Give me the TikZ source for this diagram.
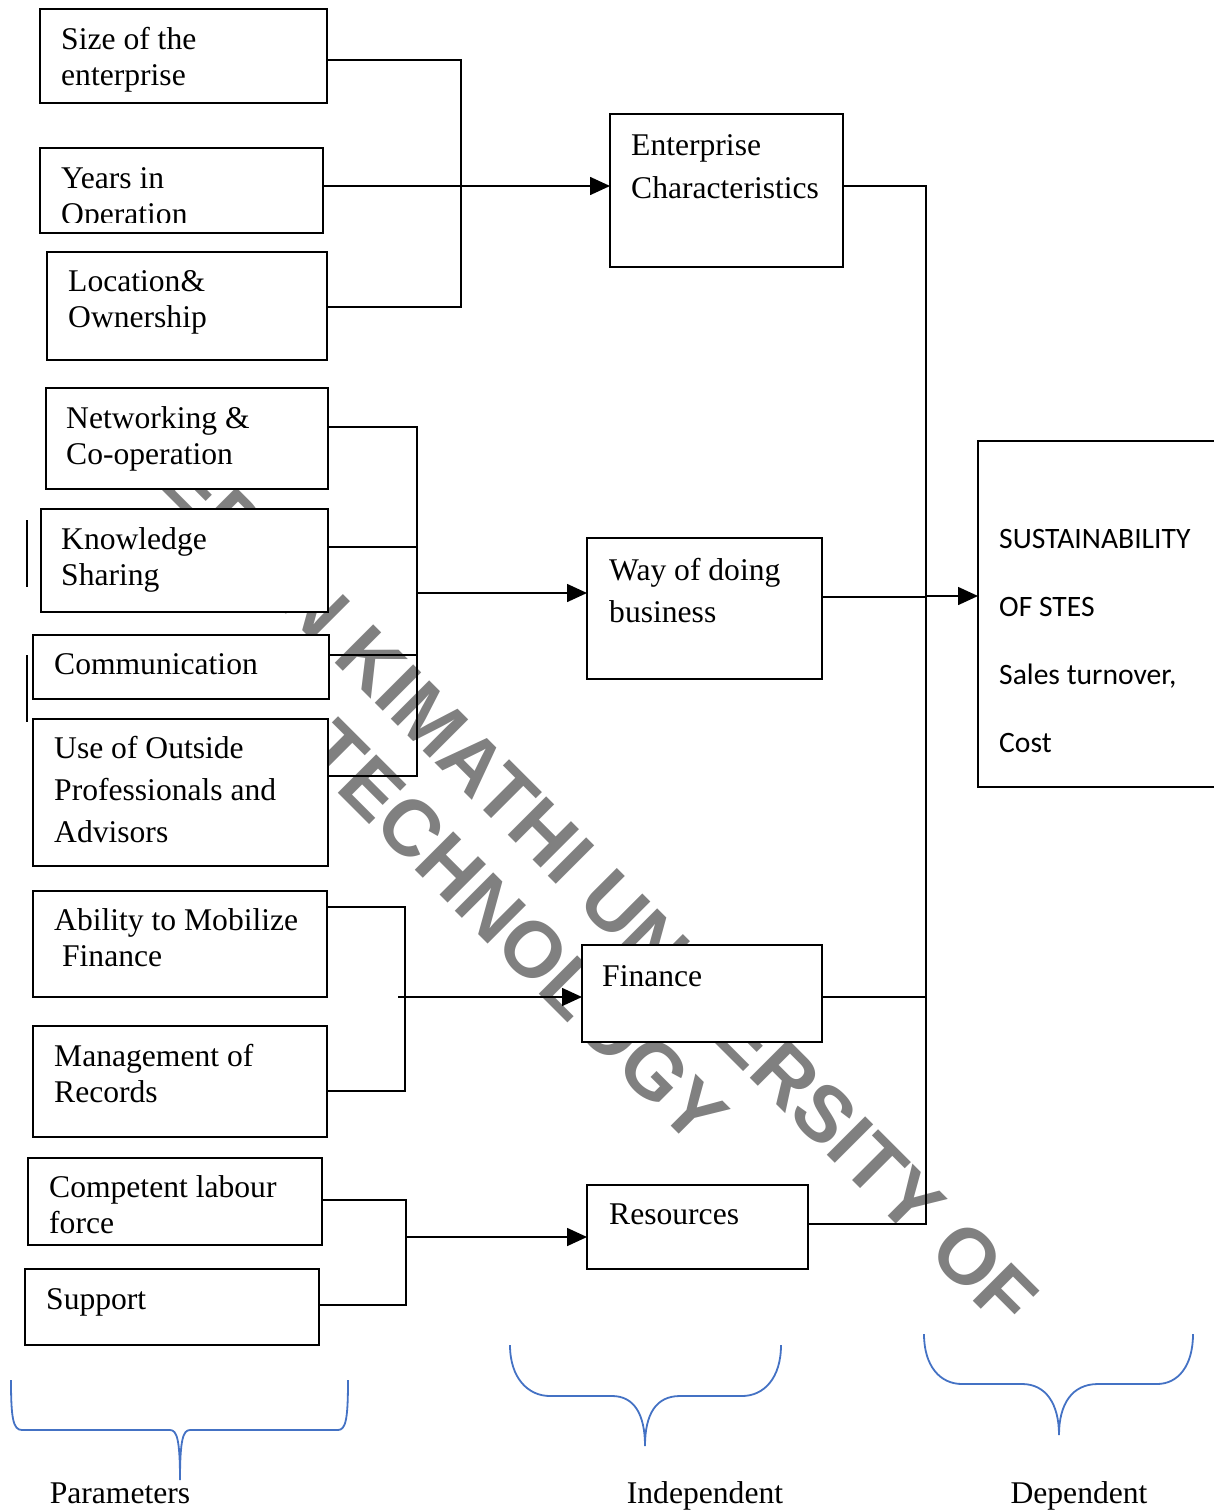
\documentclass[tikz,border=0pt]{standalone}
\usepackage{fontspec}
\setmainfont{Liberation Serif}
\newfontfamily\calfont{Carlito}
\newfontfamily\wmfont{Liberation Sans}
\usetikzlibrary{arrows.meta}
\definecolor{bracecol}{RGB}{68,114,196}
\definecolor{wmgray}{RGB}{128,128,128}

\begin{document}
\begin{tikzpicture}[x=1pt,y=-1pt,
  box/.style={draw=black, fill=white, line width=1.8pt, anchor=north west, inner sep=0pt, outer sep=0pt},
  % texts are placed by the baseline of their last line
  lbl/.style={anchor=base west, inner sep=0pt, align=left, font=\fontsize{31.6}{36}\selectfont},
  link/.style={draw=black, line width=1.6pt},
  arr/.style={link, -{Triangle[length=20pt,width=18pt]}},
  brace/.style={draw=bracecol, line width=1.8pt},
  caption/.style={anchor=base, inner sep=0pt, font=\fontsize{31.6}{36}\selectfont},
]
\useasboundingbox (0,0) rectangle (1214,1512);

% background watermark
\node[text=wmgray, rotate=-45, align=center, inner sep=0pt,
      font=\wmfont\bfseries\fontsize{79}{90}\selectfont] (wm) at (548,901)
      {DEDAN KIMATHI UNIVERSITY OF\\TECHNOLOGY};

% parameter boxes
\node[box, minimum width=287pt, minimum height=94pt]  (size) at (40,9) {};
\node[box, minimum width=283pt, minimum height=85pt]  (years) at (40,148) {};
\node[box, minimum width=280pt, minimum height=108pt] (loc) at (47,252) {};
\node[box, minimum width=282pt, minimum height=101pt] (net) at (46,388) {};
\node[box, minimum width=287pt, minimum height=103pt] (know) at (41,509) {};
\node[box, minimum width=296pt, minimum height=64pt]  (comm) at (33,635) {};
\node[box, minimum width=295pt, minimum height=147pt] (outs) at (33,719) {};
\node[box, minimum width=294pt, minimum height=106pt] (abil) at (33,891) {};
\node[box, minimum width=294pt, minimum height=111pt] (mgmt) at (33,1026) {};
\node[box, minimum width=294pt, minimum height=87pt]  (comp) at (28,1158) {};
\node[box, minimum width=294pt, minimum height=76pt]  (supp) at (25,1269) {};

% independent variable boxes
\node[box, minimum width=233pt, minimum height=153pt] (ent) at (610,114) {};
\node[box, minimum width=235pt, minimum height=141pt] (way) at (587,538) {};
\node[box, minimum width=240pt, minimum height=97pt]  (fin) at (582,945) {};
\node[box, minimum width=221pt, minimum height=84pt]  (res) at (587,1185) {};

% dependent variable box
\node[box, minimum width=250pt, minimum height=346pt] (sus) at (978,441) {};

% box texts
\node[lbl] (size-t) at (61,85) {Size of the\\enterprise};
\begin{scope}
  \clip (40,148) rectangle (323,222);
  \node[lbl] (years-t) at (61,224) {Years in\\Operation};
\end{scope}
\node[lbl] (loc-t) at (68,327) {Location\&\\Ownership};
\node[lbl] (net-t) at (66,464) {Networking \&\\Co-operation};
\node[lbl] (know-t) at (61,585) {Knowledge\\Sharing};
\node[lbl] (comm-t) at (54,674) {Communication};
\node[lbl, font=\fontsize{31.6}{42}\selectfont] (outs-t) at (54,842) {Use of Outside\\Professionals and\\Advisors};
\node[lbl] (abil-t) at (54,966) {Ability to Mobilize\\~Finance};
\node[lbl] (mgmt-t) at (54,1102) {Management of\\Records};
\node[lbl] (comp-t) at (49,1233) {Competent labour\\force};
\node[lbl] (supp-t) at (46,1309) {Support};
\node[lbl, font=\fontsize{31.6}{43}\selectfont] (ent-t) at (631,198) {Enterprise\\Characteristics};
\node[lbl, font=\fontsize{31.6}{42}\selectfont] (way-t) at (609,622) {Way of doing\\business};
\node[lbl] (fin-t) at (602,986) {Finance};
\node[lbl] (res-t) at (609,1224) {Resources};
\node[lbl, font=\calfont\fontsize{29.6}{68}\selectfont] (sus-t) at (999,752)
     {SUSTAINABILITY\\OF STES\\Sales turnover,\\Cost};

% first group: enterprise characteristics
\coordinate (g1a) at (461,60);
\coordinate (g1b) at (461,307);
\coordinate (g1m) at (461,186);
\draw[link] (size.east |- g1a) -- (g1a) -- (g1b) -- (loc.east |- g1b);
\draw[arr] (years.east |- g1m) -- (ent.west |- g1m);

% second group: way of doing business
\coordinate (g2a) at (417,427);
\coordinate (g2k) at (417,547);
\coordinate (g2c) at (417,655);
\coordinate (g2b) at (417,776);
\coordinate (g2m) at (417,593);
\draw[link] (net.east |- g2a) -- (g2a) -- (g2b) -- (outs.east |- g2b);
\draw[link] (know.east |- g2k) -- (g2k);
\draw[link] (comm.east |- g2c) -- (g2c);
\draw[arr] (g2m) -- (way.west |- g2m);

% third group: finance
\coordinate (g3a) at (405,907);
\coordinate (g3b) at (405,1091);
\coordinate (g3m) at (398,997);
\draw[link] (abil.east |- g3a) -- (g3a) -- (g3b) -- (mgmt.east |- g3b);
\draw[arr] (g3m) -- (fin.west |- g3m);

% fourth group: resources
\coordinate (g4a) at (406,1200);
\coordinate (g4b) at (406,1305);
\coordinate (g4m) at (406,1237);
\draw[link] (comp.east |- g4a) -- (g4a) -- (g4b) -- (supp.east |- g4b);
\draw[arr] (g4m) -- (res.west |- g4m);

% collector towards sustainability
\coordinate (rtop) at (926,186);
\coordinate (rbot) at (926,1224);
\coordinate (rway) at (926,597);
\coordinate (rfin) at (926,997);
\coordinate (rin) at (926,596);
\draw[link] (ent.east |- rtop) -- (rtop) -- (rbot) -- (res.east |- rbot);
\draw[link] (way.east |- rway) -- (rway);
\draw[link] (fin.east |- rfin) -- (rfin);
\draw[arr] (rin) -- (sus.west |- rin);

% stray margin bars
\draw[link] (27,520) -- (27,587);
\draw[link] (27,655) -- (27,722);

% braces
\draw[brace] (11,1380) .. controls (11,1418) and (13,1430) .. (22,1430) -- (170,1430)
  .. controls (177,1430) and (180,1440) .. (180,1480)
  .. controls (180,1440) and (183,1430) .. (190,1430) -- (338,1430)
  .. controls (346,1430) and (348,1418) .. (348,1380);
\draw[brace] (510,1345) .. controls (510,1378) and (528,1396) .. (550,1396) -- (612,1396)
  .. controls (634,1396) and (645,1414) .. (645,1446)
  .. controls (645,1414) and (656,1396) .. (680,1396) -- (742,1396)
  .. controls (764,1396) and (781,1378) .. (781,1345);
\draw[brace] (924,1334) .. controls (924,1366) and (940,1384) .. (962,1384) -- (1022,1384)
  .. controls (1046,1384) and (1059,1404) .. (1059,1435)
  .. controls (1059,1404) and (1072,1384) .. (1098,1384) -- (1157,1384)
  .. controls (1178,1384) and (1193,1366) .. (1193,1334);

% captions
\node[caption] (cap-p) at (120,1503) {Parameters};
\node[caption] (cap-i) at (705,1503) {Independent};
\node[caption] (cap-d) at (1079,1503) {Dependent};
\end{tikzpicture}
\end{document}
